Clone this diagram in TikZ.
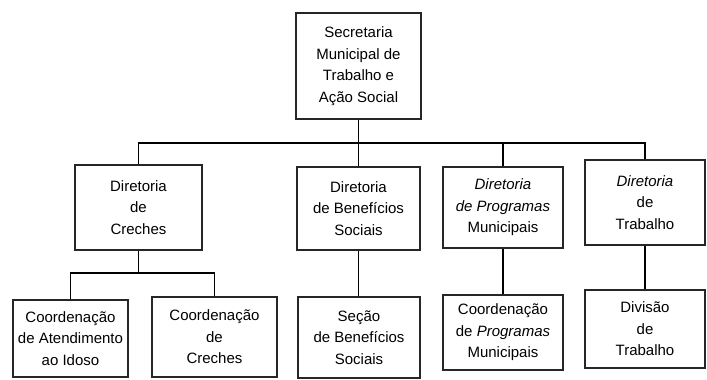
\documentclass[tikz,border=0pt]{standalone}
\usepackage{fontspec}
\setmainfont{Liberation Sans}
\begin{document}
\begin{tikzpicture}[x=1pt,y=-1pt,
  box/.style={draw=black!85, line width=1.2pt, rectangle, inner sep=0pt, align=center,
    font=\fontsize{15}{21.5}\selectfont},
  link/.style={draw=black, line width=1.8pt}]
\useasboundingbox[fill=white] (0,0) rectangle (707,380);
% top
\node[box, minimum width=125pt, minimum height=106pt] (top) at (358.5,66) {Secretaria\\Municipal de\\Trabalho e\\Ação Social};
% level 2
\node[box, minimum width=127pt, minimum height=85pt] (dc) at (138.5,207.5) {Diretoria\\de\\Creches};
\node[box, minimum width=123pt, minimum height=83pt] (db) at (358.5,208.5) {Diretoria\\de Benefícios\\Sociais};
\node[box, minimum width=120pt, minimum height=81pt] (dp) at (503,207.5) {\itshape Diretoria\\\itshape de Programas\\Municipais};
\node[box, minimum width=120pt, minimum height=85pt] (dt) at (645,202.5) {\itshape Diretoria\\de\\Trabalho};
% level 3
\node[box, minimum width=115pt, minimum height=77pt] (ci) at (70.5,338.5) {Coordenação\\de Atendimento\\ao Idoso};
\node[box, minimum width=125pt, minimum height=80pt] (cc) at (214.5,337) {Coordenação\\de\\Creches};
\node[box, minimum width=122pt, minimum height=81pt] (sb) at (359,337.5) {Seção\\de Benefícios\\Sociais};
\node[box, minimum width=120pt, minimum height=75pt] (cp) at (503,332.5) {Coordenação\\de \itshape Programas\\Municipais};
\node[box, minimum width=120pt, minimum height=78pt] (dv) at (645,329) {Divisão\\de\\Trabalho};
% connectors
\coordinate (bus) at (0,143);
\coordinate (sub) at (0,273);
\draw[link] (top.south) -- (top.south |- bus);
\draw[link] (dc.north) -- (dc.north |- bus) -- (dt.north |- bus) -- (dt.north);
\draw[link] (db.north) -- (db.north |- bus);
\draw[link] (dp.north) -- (dp.north |- bus);
\draw[link] (dc.south) -- (dc.south |- sub);
\draw[link] (ci.north) -- (ci.north |- sub) -- (cc.north |- sub) -- (cc.north);
\draw[link] (db.south) -- (db.south |- sb.north);
\draw[link] (dp.south) -- (dp.south |- cp.north);
\draw[link] (dt.south) -- (dt.south |- dv.north);
\end{tikzpicture}
\end{document}
